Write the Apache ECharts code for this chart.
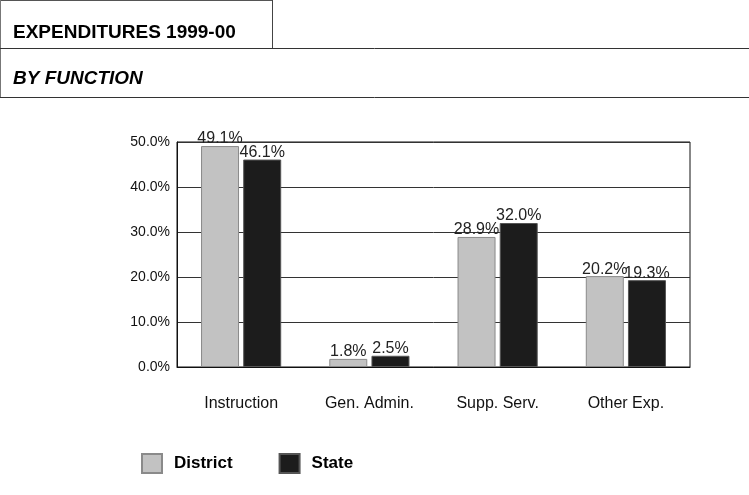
<!DOCTYPE html>
<html>
<head>
<meta charset="utf-8">
<script src="https://cdn.jsdelivr.net/npm/echarts@6/dist/echarts.min.js"></script>
<style>
html,body{margin:0;padding:0;background:#fff;}
#chart{width:749px;height:495px;}
</style>
</head>
<body>
<div id="chart"></div>
<script>
var categories = ['Instruction', 'Gen. Admin.', 'Supp. Serv.', 'Other Exp.'];
var districtValues = [49.1, 1.8, 28.9, 20.2];
var stateValues = [46.1, 2.5, 32.0, 19.3];
var seriesNames = ['District', 'State'];
var yTicks = [0, 10, 20, 30, 40, 50];
var titleText = 'EXPENDITURES 1999-00';
var subtitleText = 'BY FUNCTION';

var chart = echarts.init(document.getElementById('chart'));
var labelStyle = {
  show: true,
  position: 'top',
  distance: -1,
  fontFamily: 'Liberation Sans, Arial, sans-serif',
  fontSize: 16,
  color: '#222',
  formatter: function (p) { return p.value.toFixed(1) + '%'; }
};
var option = {
  backgroundColor: '#fff',
  animation: false,
  graphic: [
    { type: 'line', shape: { x1: 0, y1: 0.5, x2: 272, y2: 0.5 }, style: { stroke: '#555', lineWidth: 1 } },
    { type: 'line', shape: { x1: 0.5, y1: 0, x2: 0.5, y2: 97 }, style: { stroke: '#777', lineWidth: 1 } },
    { type: 'line', shape: { x1: 272.5, y1: 0, x2: 272.5, y2: 48 }, style: { stroke: '#444', lineWidth: 1 } },
    { type: 'line', shape: { x1: 0, y1: 48.5, x2: 749, y2: 48.5 }, style: { stroke: '#333', lineWidth: 1 } },
    { type: 'line', shape: { x1: 0, y1: 97.5, x2: 749, y2: 97.5 }, style: { stroke: '#333', lineWidth: 1 } },
    { type: 'text', left: 13, top: 23, style: { text: titleText, fontFamily: 'Liberation Sans, Arial, sans-serif', fontWeight: 'bold', fontSize: 19, fill: '#000' } },
    { type: 'text', left: 13, top: 69, style: { text: subtitleText, fontFamily: 'Liberation Sans, Arial, sans-serif', fontWeight: 'bold', fontStyle: 'italic', fontSize: 19, fill: '#000' } }
  ],
  grid: { left: 177, right: 59, top: 142, bottom: 128, show: true, borderColor: '#111', borderWidth: 1 },
  legend: {
    data: seriesNames,
    left: 136,
    top: 448,
    icon: 'rect',
    itemWidth: 20,
    itemHeight: 19,
    itemGap: 46,
    textStyle: { fontFamily: 'Liberation Sans, Arial, sans-serif', fontWeight: 'bold', fontSize: 17, color: '#000', padding: [2, 0, 0, 7] }
  },
  xAxis: {
    type: 'category',
    data: categories,
    axisLine: { show: true, lineStyle: { color: '#111' } },
    axisTick: { show: false },
    axisLabel: { margin: 29, fontFamily: 'Liberation Sans, Arial, sans-serif', fontSize: 16, color: '#111' }
  },
  yAxis: {
    type: 'value',
    min: yTicks[0],
    max: yTicks[yTicks.length - 1],
    interval: 10,
    axisLine: { show: true, lineStyle: { color: '#111' } },
    axisTick: { show: false },
    axisLabel: { margin: 7, fontFamily: 'Liberation Sans, Arial, sans-serif', fontSize: 14, color: '#111', formatter: function (v) { return v.toFixed(1) + '%'; } },
    splitLine: { show: true, lineStyle: { color: '#333', width: 1 } }
  },
  series: [
    {
      name: seriesNames[0], type: 'bar', data: districtValues,
      barWidth: 38, barGap: '11%',
      itemStyle: { color: '#c2c2c2', borderColor: '#8a8a8a', borderWidth: 1 },
      label: labelStyle
    },
    {
      name: seriesNames[1], type: 'bar', data: stateValues,
      barWidth: 38,
      itemStyle: { color: '#1c1c1c', borderColor: '#555', borderWidth: 1 },
      label: labelStyle
    }
  ]
};
chart.setOption(option);
</script>
</body>
</html>
